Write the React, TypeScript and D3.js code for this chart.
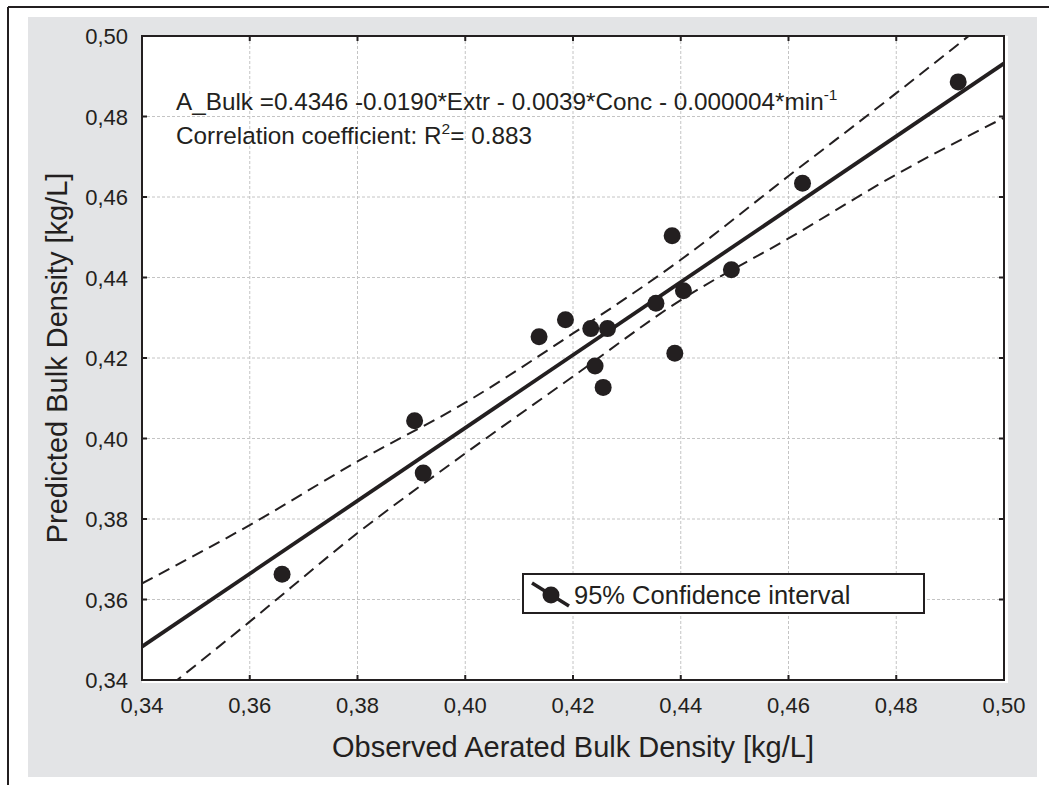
import React, { useEffect } from 'react';
import * as d3 from 'd3';

// observed vs predicted aerated bulk density (kg/L)
const observed  = [0.3660, 0.3906, 0.3922, 0.4137, 0.4186, 0.4233, 0.4264, 0.4241, 0.4256, 0.4354, 0.4405, 0.4384, 0.4389, 0.4494, 0.4626, 0.4915];
const predicted = [0.3663, 0.4044, 0.3914, 0.4253, 0.4295, 0.4273, 0.4273, 0.4180, 0.4127, 0.4336, 0.4367, 0.4504, 0.4212, 0.4419, 0.4634, 0.4886];

// regression line end points
const fitX = [0.34, 0.50];
const fitY = [0.3483, 0.4932];

// 95% confidence band
const bandX     = [0.34, 0.36, 0.38, 0.40, 0.42, 0.44, 0.46, 0.48, 0.50];
const bandUpper = [0.3640, 0.3785, 0.3943, 0.4089, 0.4261, 0.4444, 0.4652, 0.4858, 0.5070];
const bandLower = [0.3330, 0.3545, 0.3765, 0.3963, 0.4154, 0.4344, 0.4497, 0.4656, 0.4797];

const xTicks = [0.34, 0.36, 0.38, 0.40, 0.42, 0.44, 0.46, 0.48, 0.50];
const yTicks = [0.34, 0.36, 0.38, 0.40, 0.42, 0.44, 0.46, 0.48, 0.50];

const W = 1049, H = 785;
const M = { left: 142, right: 1004, top: 36, bottom: 680 };
const FONT = '"Liberation Sans", Arial, Helvetica, sans-serif';
const INK = '#231f20';

const fmt = d3.formatLocale({ decimal: ',', thousands: '.', grouping: [3], currency: ['', ''] }).format('.2f');

export default function App() {
  useEffect(() => {
    document.body.style.margin = '0';
    document.body.style.overflow = 'hidden';
  }, []);

  const x = d3.scaleLinear().domain([0.34, 0.50]).range([M.left, M.right]);
  const y = d3.scaleLinear().domain([0.34, 0.50]).range([M.bottom, M.top]);

  const bandPath = (vals: number[]) =>
    d3.line<number>().x((_, i) => x(bandX[i])).y(v => y(v)).curve(d3.curveMonotoneX)(vals) || '';
  const fitPath = d3.line<number>().x((_, i) => x(fitX[i])).y(v => y(v))(fitY) || '';

  const tick = 5;

  return (
    <div style={{ position: 'absolute', left: 0, top: 0 }}>
      <svg width={W} height={H} style={{ display: 'block', fontFamily: FONT }}>
        <rect x={0} y={0} width={W} height={H} fill="#fff" />
        {/* outer frame */}
        <line x1={8} y1={7} x2={W} y2={7} stroke={INK} strokeWidth={2} />
        <line x1={8} y1={7} x2={8} y2={H} stroke={INK} strokeWidth={2} />
        {/* grey panel */}
        <rect x={28} y={17} width={1009} height={760} fill="#e3e4e6" />
        {/* plot area */}
        <rect x={M.left} y={M.top} width={M.right - M.left + 4} height={M.bottom - M.top + 3} fill="#fff" />

        <defs>
          <clipPath id="plotClip">
            <rect x={M.left} y={M.top} width={M.right - M.left} height={M.bottom - M.top} />
          </clipPath>
        </defs>

        {/* grid */}
        <g stroke="#c4c4c4" strokeWidth={1} strokeDasharray="3,2">
          {xTicks.slice(1, -1).map(t => (
            <line key={'gx' + t} x1={x(t)} x2={x(t)} y1={M.top} y2={M.bottom} />
          ))}
          {yTicks.slice(1, -1).map(t => (
            <line key={'gy' + t} x1={M.left} x2={M.right} y1={y(t)} y2={y(t)} />
          ))}
        </g>

        {/* annotation */}
        <text x={176} y={110} fontSize={24.3} fill={INK}>
          A_Bulk =0.4346 -0.0190*Extr - 0.0039*Conc - 0.000004*min
          <tspan fontSize={15.5} dy={-10}>-1</tspan>
        </text>
        <text x={176} y={144} fontSize={24.3} fill={INK}>
          Correlation coefficient: R
          <tspan fontSize={15.5} dy={-10}>2</tspan>
          <tspan dy={10}>= 0.883</tspan>
        </text>

        <g clipPath="url(#plotClip)">
          <path d={bandPath(bandUpper)} fill="none" stroke={INK} strokeWidth={2} strokeDasharray="12,7" />
          <path d={bandPath(bandLower)} fill="none" stroke={INK} strokeWidth={2} strokeDasharray="12,7" />
          <path d={fitPath} fill="none" stroke={INK} strokeWidth={3.8} />
          {observed.map((o, i) => (
            <circle key={i} cx={x(o)} cy={y(predicted[i])} r={8.5} fill={INK} />
          ))}
        </g>

        {/* frame and inward ticks */}
        <rect x={M.left} y={M.top} width={M.right - M.left} height={M.bottom - M.top} fill="none" stroke={INK} strokeWidth={2} />
        <g stroke={INK} strokeWidth={2}>
          {xTicks.slice(1, -1).map(t => (
            <g key={'tx' + t}>
              <line x1={x(t)} x2={x(t)} y1={M.bottom} y2={M.bottom - tick} />
              <line x1={x(t)} x2={x(t)} y1={M.top} y2={M.top + tick} />
            </g>
          ))}
          {yTicks.slice(1, -1).map(t => (
            <g key={'ty' + t}>
              <line x1={M.left} x2={M.left + tick} y1={y(t)} y2={y(t)} />
              <line x1={M.right} x2={M.right - tick} y1={y(t)} y2={y(t)} />
            </g>
          ))}
        </g>

        {/* tick labels */}
        <g fontSize={22} fill={INK}>
          {xTicks.map(t => (
            <text key={'lx' + t} x={x(t)} y={713} textAnchor="middle">{fmt(t)}</text>
          ))}
          {yTicks.map(t => (
            <text key={'ly' + t} x={128} y={y(t) + 8} textAnchor="end">{fmt(t)}</text>
          ))}
        </g>

        {/* axis titles */}
        <text x={(M.left + M.right) / 2} y={757} fontSize={29} textAnchor="middle" fill={INK}>
          Observed Aerated Bulk Density [kg/L]
        </text>
        <text transform={`translate(67,${(M.top + M.bottom) / 2}) rotate(-90)`} fontSize={29} textAnchor="middle" fill={INK}>
          Predicted Bulk Density [kg/L]
        </text>

        {/* legend */}
        <g>
          <rect x={523} y={574} width={401} height={39} fill="#fff" stroke={INK} strokeWidth={2} />
          <line x1={532} y1={583} x2={569} y2={606} stroke={INK} strokeWidth={3.5} />
          <circle cx={551} cy={595} r={8.5} fill={INK} />
          <text x={574} y={604} fontSize={25.5} fill={INK}>95% Confidence interval</text>
        </g>
      </svg>
    </div>
  );
}
